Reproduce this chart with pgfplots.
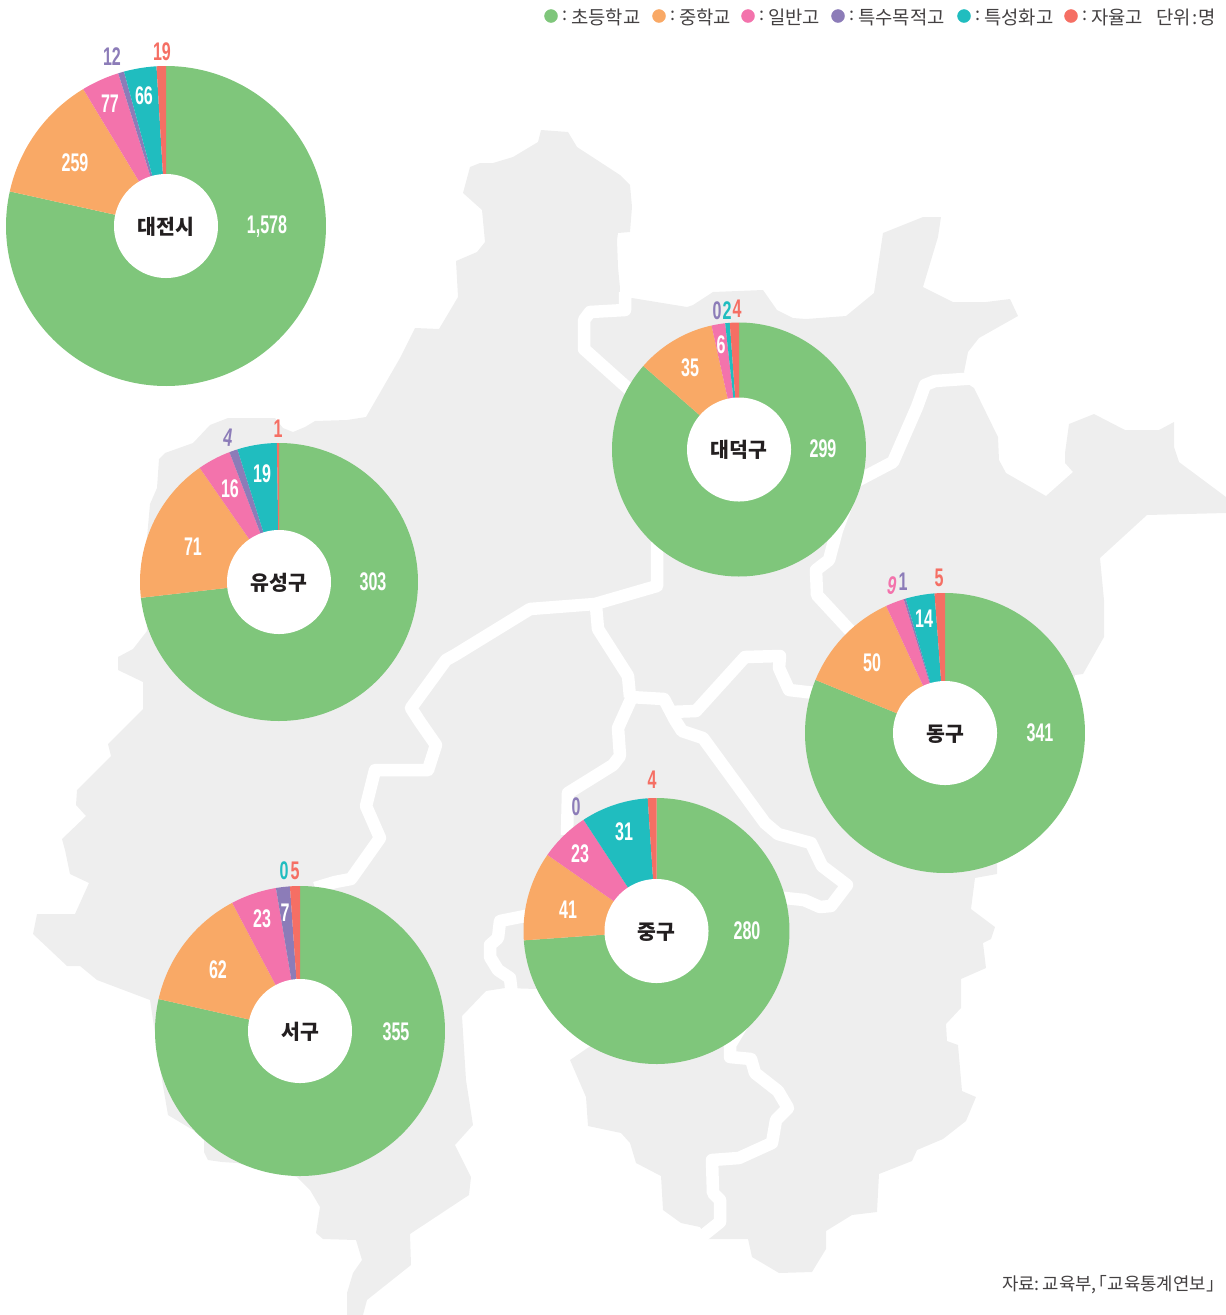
\documentclass[border=0pt]{standalone}
\usepackage{fontspec}
\usepackage{pgfplots}
\pgfplotsset{compat=1.18}
\setmainfont{Noto Sans CJK KR}
\newfontfamily\numf[FakeStretch=0.63]{Liberation Sans Bold}
\definecolor{cG}{HTML}{7FC67B}
\definecolor{cO}{HTML}{F9A966}
\definecolor{cP}{HTML}{F373AC}
\definecolor{cV}{HTML}{8C7CB8}
\definecolor{cT}{HTML}{20BDBF}
\definecolor{cR}{HTML}{F56F64}
\definecolor{cM}{HTML}{EEEEEE}
\definecolor{cK}{HTML}{231F20}
% one donut: centre, outer radius, total
\newcommand{\donut}[4]{\gdef\dCx{#1}\gdef\dCy{#2}\gdef\dR{#3}\gdef\dTot{#4}\gdef\dCum{0}}
% one slice: value, colour; clockwise from twelve o'clock
\newcommand{\slice}[2]{%
  \pgfmathsetmacro\angA{(\dCum/\dTot)*360}%
  \pgfmathsetmacro\angB{((\dCum+#1)/\dTot)*360}%
  \pgfmathtruncatemacro\nSteps{(\angB-\angA)/1.5+2}%
  \gdef\dPts{}%
  \foreach \iStep in {0,...,\nSteps}{%
    \pgfmathsetmacro\angC{\angA+(\iStep/\nSteps)*(\angB-\angA)}%
    \pgfmathsetmacro\ptX{\dCx+\dR*sin(\angC)}%
    \pgfmathsetmacro\ptY{\dCy-\dR*cos(\angC)}%
    \xdef\dPts{\dPts (\ptX,\ptY)}%
  }%
  \edef\dCmd{\noexpand\addplot[fill=#2,draw=none,forget plot] coordinates {(\dCx,\dCy) \dPts} --cycle;}%
  \dCmd
  \pgfmathsetmacro\dNew{\dCum+#1}%
  \xdef\dCum{\dNew}%
}
% the white centre: a full circle of radius 52
\newcommand{\hole}{\gdef\dR{52}\gdef\dCum{0}\gdef\dTot{1}\slice{1}{white}}
\newcommand{\lab}[4][0]{\node[text=white,font=\numf\fontsize{25.5}{26}\selectfont,inner sep=0pt,rotate=#1] at (axis cs:#2,#3) {#4};}
\newcommand{\out}[5][0]{\node[text=#4,font=\numf\fontsize{25.5}{26}\selectfont,inner sep=0pt,rotate=#1] at (axis cs:#2,#3) {#5};}
\newcommand{\nam}[3]{\node[text=cK,font=\bfseries\fontsize{20.5}{21}\selectfont,inner sep=0pt] at (axis cs:#1,#2+1) {#3};}
\newcommand{\leg}[3]{\node[text=cK!85!white,font=\fontsize{18.8}{19}\selectfont,inner sep=0pt,anchor=#3] at (axis cs:#1,17) {#2};}
\newcommand{\legc}[1]{\node[text=cK!85!white,font=\fontsize{18}{19}\selectfont,inner sep=0pt] at (axis cs:#1,16) {:};}
\begin{document}
\begin{tikzpicture}
\begin{axis}[
  scale only axis,width=1226pt,height=1315pt,
  xmin=0,xmax=1226,ymin=0,ymax=1315,y dir=reverse,
  hide axis,clip=false]
% map
\addplot[fill=cM,draw=none,forget plot] coordinates {
(541,130)(568,132)(577,147)(597,160)(620,175)(630,185)(632,207)(630,232)(618,233)(617,240)(618,267)(620,288)(619,303)
(632,298)(687,307)(693,305)(713,292)(763,290)(777,310)(793,318)(806,319)(846,316)(874,293)(883,233)(923,217)(941,217)(938,237)(923,287)
(953,302)(986,302)(1010,299)(1018,316)(979,338)(968,352)(964,372)(968,384)(974,388)(998,437)(999,460)(1006,473)(1046,496)(1073,472)(1065,463)(1065,453)(1069,424)
(1094,414)(1125,430)(1159,430)(1174,422)(1174,447)(1179,462)(1226,497)(1226,513)(1147,515)(1100,558)(1104,600)(1104,637)(1083,674)(1075,675)
(1040,800)(997,863)(997,874)(975,878)(971,909)(995,927)(991,939)(983,943)(986,968)(961,979)(961,1008)(946,1024)(947,1041)(958,1045)(962,1091)(976,1097)(966,1121)
(943,1139)(917,1150)(912,1161)(879,1174)(877,1212)(852,1215)(826,1231)(826,1249)(812,1272)(779,1273)(752,1257)(748,1239)(708,1239)
(700,1227)(681,1223)(663,1210)(661,1176)(636,1163)(630,1143)(621,1133)(588,1126)(586,1097)(570,1060)(589,1047)(600,1040)(560,1000)(537,989)(505,988)
(486,991)(462,1016)(466,1080)(473,1125)(455,1145)(471,1177)(469,1195)(410,1234)(411,1265)(367,1300)(363,1315)(347,1315)(347,1293)(353,1273)(362,1260)(356,1240)
(323,1239)(316,1233)(320,1207)(310,1190)(297,1177)(237,1163)(222,1162)(208,1160)(204,1152)(204,1140)(193,1130)(168,1115)(162,1080)(150,1000)
(97,980)(80,966)(67,966)(33,934)(37,914)(75,914)(89,883)(70,874)(65,850)(62,839)(86,816)(76,805)(77,790)(111,756)(108,744)(143,709)(143,682)(118,670)(118,657)(133,649)(147,631)
(145,560)(150,504)(157,488)(159,459)(165,453)(193,443)(210,425)(228,418)(275,418)(283,428)(293,432)(305,427)(315,421)(347,420)(366,417)(400,358)(415,328)(439,329)(458,297)(456,261)
(477,252)(485,242)(482,210)(463,193)(470,167)(480,163)(493,163)(513,157)(538,142)
} --cycle;
\addplot[white,line width=12.5pt,line join=round,forget plot] coordinates {(625,292)(625,310)(590,312)(584,320)(584,349)(632,392)};
\addplot[white,line width=12.5pt,line join=round,forget plot] coordinates {(978,378)(935,381)(925,385)(917,407)(893,462)(855,482)(837,530)(829,560)(816,570)(817,595)(855,636)};
\addplot[white,line width=12.5pt,line join=round,forget plot] coordinates {(657,500)(657,586)(595,604)(530,609)(455,655)(446,660)(411,708)(420,722)(436,745)(428,770)(375,770)(366,806)(380,838)(351,879)(335,882)(315,888)};
\addplot[white,line width=12.5pt,line join=round,forget plot] coordinates {(596,606)(598,629)(628,676)(630,697)};
\addplot[white,line width=12.5pt,line join=round,forget plot] coordinates {(630,697)(664,699)(675,720)(682,731)(703,738)(765,823)(778,834)(811,843)(822,866)(847,885)(831,906)(820,907)(804,900)(785,898)(760,895)};
\addplot[white,line width=12.5pt,line join=round,forget plot] coordinates {(670,712)(696,711)(745,657)(780,656)(779,668)(789,690)(815,693)};
\addplot[white,line width=12.5pt,line join=round,forget plot] coordinates {(632,697)(618,728)(620,756)(613,765)(568,793)(567,835)};
\addplot[white,line width=12.5pt,line join=round,forget plot] coordinates {(530,915)(500,921)(498,938)(490,945)(490,957)(498,970)(510,978)(512,995)};
\addplot[white,line width=12.5pt,line join=round,forget plot] coordinates {(757,1000)(730,1045)(730,1057)(751,1059)(755,1073)(778,1091)(788,1108)(776,1120)(772,1143)(739,1158)(712,1160)(713,1193)(720,1200)(720,1222)(700,1238)};
% donuts
\donut{166}{226}{160}{2011}
\slice{1578}{cG}\slice{259}{cO}\slice{77}{cP}\slice{12}{cV}\slice{66}{cT}\slice{19}{cR}\hole
\donut{739}{449.5}{127}{346}
\slice{299}{cG}\slice{35}{cO}\slice{6}{cP}\slice{2}{cT}\slice{4}{cR}\hole
\donut{279}{582}{139}{414}
\slice{303}{cG}\slice{71}{cO}\slice{16}{cP}\slice{4}{cV}\slice{19}{cT}\slice{1}{cR}\hole
\donut{945}{733}{140}{420}
\slice{341}{cG}\slice{50}{cO}\slice{9}{cP}\slice{1}{cV}\slice{14}{cT}\slice{5}{cR}\hole
\donut{656.5}{931}{133}{379}
\slice{280}{cG}\slice{41}{cO}\slice{23}{cP}\slice{31}{cT}\slice{4}{cR}\hole
\donut{300}{1031}{145}{452}
\slice{355}{cG}\slice{62}{cO}\slice{23}{cP}\slice{7}{cV}\slice{5}{cR}\hole
% legend
\addplot[only marks,color=cG,mark=*,mark size=6.5pt,forget plot] coordinates {(551,16)};
\addplot[only marks,color=cO,mark=*,mark size=6.5pt,forget plot] coordinates {(659,16)};
\addplot[only marks,color=cP,mark=*,mark size=6.5pt,forget plot] coordinates {(748,16)};
\addplot[only marks,color=cV,mark=*,mark size=6.5pt,forget plot] coordinates {(838,16)};
\addplot[only marks,color=cT,mark=*,mark size=6.5pt,forget plot] coordinates {(964,16)};
\addplot[only marks,color=cR,mark=*,mark size=6.5pt,forget plot] coordinates {(1071,16)};
\legc{565}\leg{571}{초등학교}{west}
\legc{673}\leg{679}{중학교}{west}
\legc{762}\leg{768}{일반고}{west}
\legc{852}\leg{858}{특수목적고}{west}
\legc{978}\leg{984}{특성화고}{west}
\legc{1085}\leg{1091}{자율고}{west}
\leg{1216}{단위\kern1pt:\kern1pt명}{east}
\node[text=cK!85!white,font=\fontsize{17.8}{19}\selectfont,inner sep=0pt,anchor=east] at (axis cs:1216,1285) {자료:\kern-1pt\ 교육부,\kern-1pt\kern-6pt「교육통계연보」\kern-8pt};
% labels
\nam{166}{226}{대전시}\nam{739}{449}{대덕구}\nam{279}{582}{유성구}\nam{945}{733}{동구}\nam{656.5}{931}{중구}\nam{300}{1031}{서구}
\lab{267}{227}{1,578}\lab{75}{163}{259}\lab{110}{104}{77}\lab{144}{96}{66}
\out{112}{57}{cV}{12}\out{162}{52}{cR}{19}
\lab{823}{449}{299}\lab{690}{368}{35}\lab{721}{345}{6}
\out{717}{311}{cV}{0}\out{727}{311}{cT}{2}\out{737}{309}{cR}{4}
\lab{373}{582}{303}\lab{193}{547}{71}\lab{230}{489}{16}\lab{262}{474}{19}
\out[-8]{228}{437}{cV}{4}\out{278}{429}{cR}{1}
\lab{1040}{733}{341}\lab{872}{663}{50}\lab{924}{619}{14}
\out[-10]{892}{586}{cP}{9}\out{903}{582}{cV}{1}\out{939}{578}{cR}{5}
\lab{747}{931}{280}\lab{568}{910}{41}\lab{580}{854}{23}\lab{624}{832}{31}
\out{576}{807}{cV}{0}\out{652}{780}{cR}{4}
\lab{396}{1032}{355}\lab{218}{970}{62}\lab{262}{919}{23}\lab{285}{913}{7}
\out{284}{871}{cT}{0}\out{295}{871}{cR}{5}
\end{axis}
\pgfresetboundingbox
\path[use as bounding box] (0,0) rectangle (1226pt,1315pt);
\end{tikzpicture}
\end{document}
